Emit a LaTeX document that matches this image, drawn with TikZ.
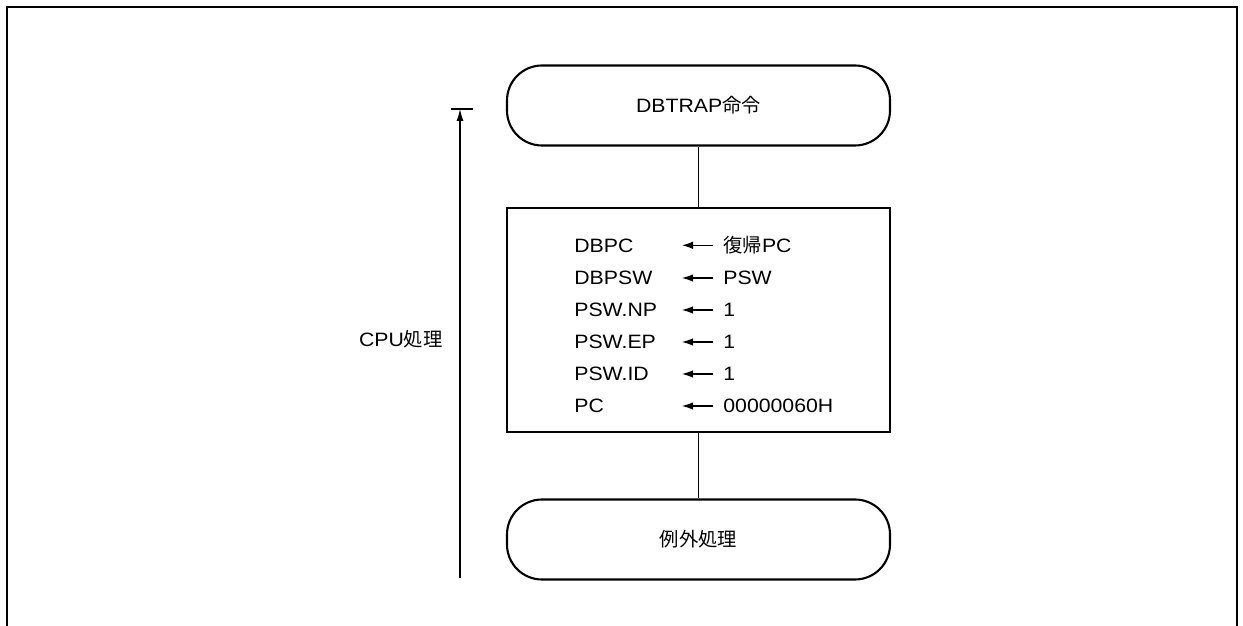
\documentclass[tikz,border=0pt]{standalone}
\usepackage{fontspec}
\setmainfont{Liberation Sans}[FakeStretch=1.1]
\newfontfamily\cjk{Noto Sans CJK JP}
\usepackage{tikz}
\usetikzlibrary{arrows.meta}
\usetikzlibrary{positioning}

\begin{document}
\begin{tikzpicture}[
    every node/.style={font=\fontsize{11}{13}\selectfont, inner sep=0pt},
    terminal/.style={draw, line width=1.2pt, rounded corners=0.7cm,
        minimum width=7.66cm, minimum height=1.6cm},
    process/.style={draw, line width=1.2pt, minimum width=7.66cm, minimum height=4.48cm},
    flow/.style={draw, line width=0.6pt},
    assign/.style={draw, line width=0.6pt, -{Latex[length=2.2mm, width=1.5mm]}},
    regname/.style={anchor=mid west},
    regval/.style={anchor=mid west},
]
\useasboundingbox (0,0) rectangle (24.86,12.5);

% outer frame (bottom edge lies below the page)
\draw[line width=1.4pt] (0.14,-0.2) -- (0.14,12.36) -- (24.74,12.36) -- (24.74,-0.2);

% flow chart
\node[terminal] (trap) at (13.97,10.39) {DBTRAP{\cjk 命令}};
\node[process] (save) at (13.97,6.10) {};
\node[terminal] (exc) at (13.97,1.71) {{\cjk 例外処理}};

\draw[flow] (trap.south) -- (save.north);
\draw[flow] (save.south) -- (exc.north);

% register assignments
\node[regname] (r1) at (11.48,7.54) {DBPC};
\node[regname] (r2) at (11.48,6.90) {DBPSW};
\node[regname] (r3) at (11.48,6.26) {PSW.NP};
\node[regname] (r4) at (11.48,5.62) {PSW.EP};
\node[regname] (r5) at (11.48,4.98) {PSW.ID};
\node[regname] (r6) at (11.48,4.34) {PC};

\node[regval] (v1) at (14.46,7.54) {{\cjk 復帰}PC};
\node[regval] (v2) at (14.46,6.90) {PSW};
\node[regval] (v3) at (14.46,6.26) {1};
\node[regval] (v4) at (14.46,5.62) {1};
\node[regval] (v5) at (14.46,4.98) {1};
\node[regval] (v6) at (14.46,4.34) {00000060H};

\coordinate (tip) at (13.64,0);
\draw[assign, shorten <=0.2cm] (v1.west) -- (v1.west -| tip);
\draw[assign, shorten <=0.2cm] (v2.west) -- (v2.west -| tip);
\draw[assign, shorten <=0.2cm] (v3.west) -- (v3.west -| tip);
\draw[assign, shorten <=0.2cm] (v4.west) -- (v4.west -| tip);
\draw[assign, shorten <=0.2cm] (v5.west) -- (v5.west -| tip);
\draw[assign, shorten <=0.2cm] (v6.west) -- (v6.west -| tip);

% CPU span
\coordinate (cpubot) at (9.20,0.94);
\coordinate (cputop) at (9.20,10.32);
\draw[line width=0.6pt, -{Latex[length=2.4mm, width=1.4mm]}] (cpubot) -- (cputop);
\draw[line width=0.6pt] ([xshift=-0.18cm]cputop) -- ([xshift=0.26cm]cputop);
\node[anchor=mid east] (cpu) at (8.86,5.66) {CPU{\cjk 処理}};
\end{tikzpicture}
\end{document}
